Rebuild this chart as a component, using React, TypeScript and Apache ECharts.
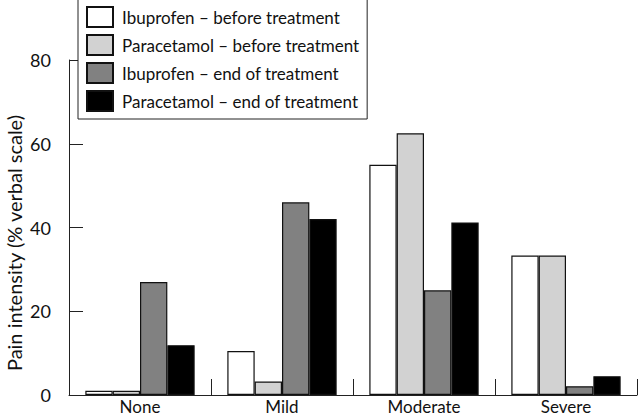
import React, { useEffect, useRef } from "react";
import * as echarts from "echarts";

const categories = ["None", "Mild", "Moderate", "Severe"];
const seriesNames = [
  "Ibuprofen – before treatment",
  "Paracetamol – before treatment",
  "Ibuprofen – end of treatment",
  "Paracetamol – end of treatment",
];
const ibuBefore = [1, 10.5, 55, 33.3];
const paraBefore = [1, 3.2, 62.5, 33.3];
const ibuEnd = [27, 46, 25, 2.1];
const paraEnd = [11.9, 42, 41.2, 4.5];
const seriesColors = ["#ffffff", "#d2d2d2", "#818181", "#000000"];
const yTicks = [0, 20, 40, 60, 80];
const yTitle = "Pain intensity (% verbal scale)";

const FONT = "Lato";

export default function App() {
  const ref = useRef<HTMLDivElement>(null);
  useEffect(() => {
    if (!ref.current) return;
    const chart = echarts.init(ref.current, null, { renderer: "svg" });
    const data = [ibuBefore, paraBefore, ibuEnd, paraEnd];
    chart.setOption({
      animation: false,
      backgroundColor: "#ffffff",
      textStyle: { fontFamily: FONT },
      grid: { left: 69, right: 3, top: 60, bottom: 22, containLabel: false },
      legend: {
        orient: "vertical",
        left: 78,
        top: -1,
        padding: [7, 8, 7, 8],
        itemWidth: 26,
        itemHeight: 20,
        itemGap: 6,
        icon: "rect",
        borderColor: "#222",
        borderWidth: 1,
        backgroundColor: "#fff",
        data: seriesNames,
        textStyle: { fontFamily: FONT, fontSize: 17, color: "#111", padding: [0, 0, 0, 4] },
      },
      xAxis: {
        type: "category",
        data: categories,
        axisLine: { show: true, lineStyle: { color: "#222", width: 1 } },
        axisTick: { show: true, inside: true, length: 16, alignWithLabel: false, lineStyle: { color: "#222" } },
        axisLabel: { fontFamily: FONT, fontSize: 17, color: "#111", margin: 3 },
        splitLine: { show: false },
      },
      yAxis: {
        type: "value",
        min: yTicks[0],
        max: yTicks[yTicks.length - 1],
        interval: 20,
        axisLine: { show: true, lineStyle: { color: "#222", width: 1 } },
        axisTick: { show: true, inside: true, length: 14, lineStyle: { color: "#222" } },
        axisLabel: { fontFamily: FONT, fontSize: 18, color: "#111", margin: 18 },
        splitLine: { show: false },
      },
      graphic: [
        {
          type: "text",
          x: 14,
          y: 243,
          rotation: Math.PI / 2,
          style: {
            text: yTitle,
            fontFamily: FONT,
            fontSize: 20,
            fill: "#111",
            textAlign: "center",
            textVerticalAlign: "middle",
          },
        },
      ],
      series: seriesNames.map((name, i) => ({
        name,
        type: "bar",
        data: data[i],
        barGap: "0%",
        barCategoryGap: "23%",
        itemStyle: { color: seriesColors[i], borderColor: "#111", borderWidth: 1.2 },
      })),
    });
    return () => chart.dispose();
  }, []);
  return <div ref={ref} style={{ width: 640, height: 417, position: "absolute", left: 0, top: 0 }} />;
}
